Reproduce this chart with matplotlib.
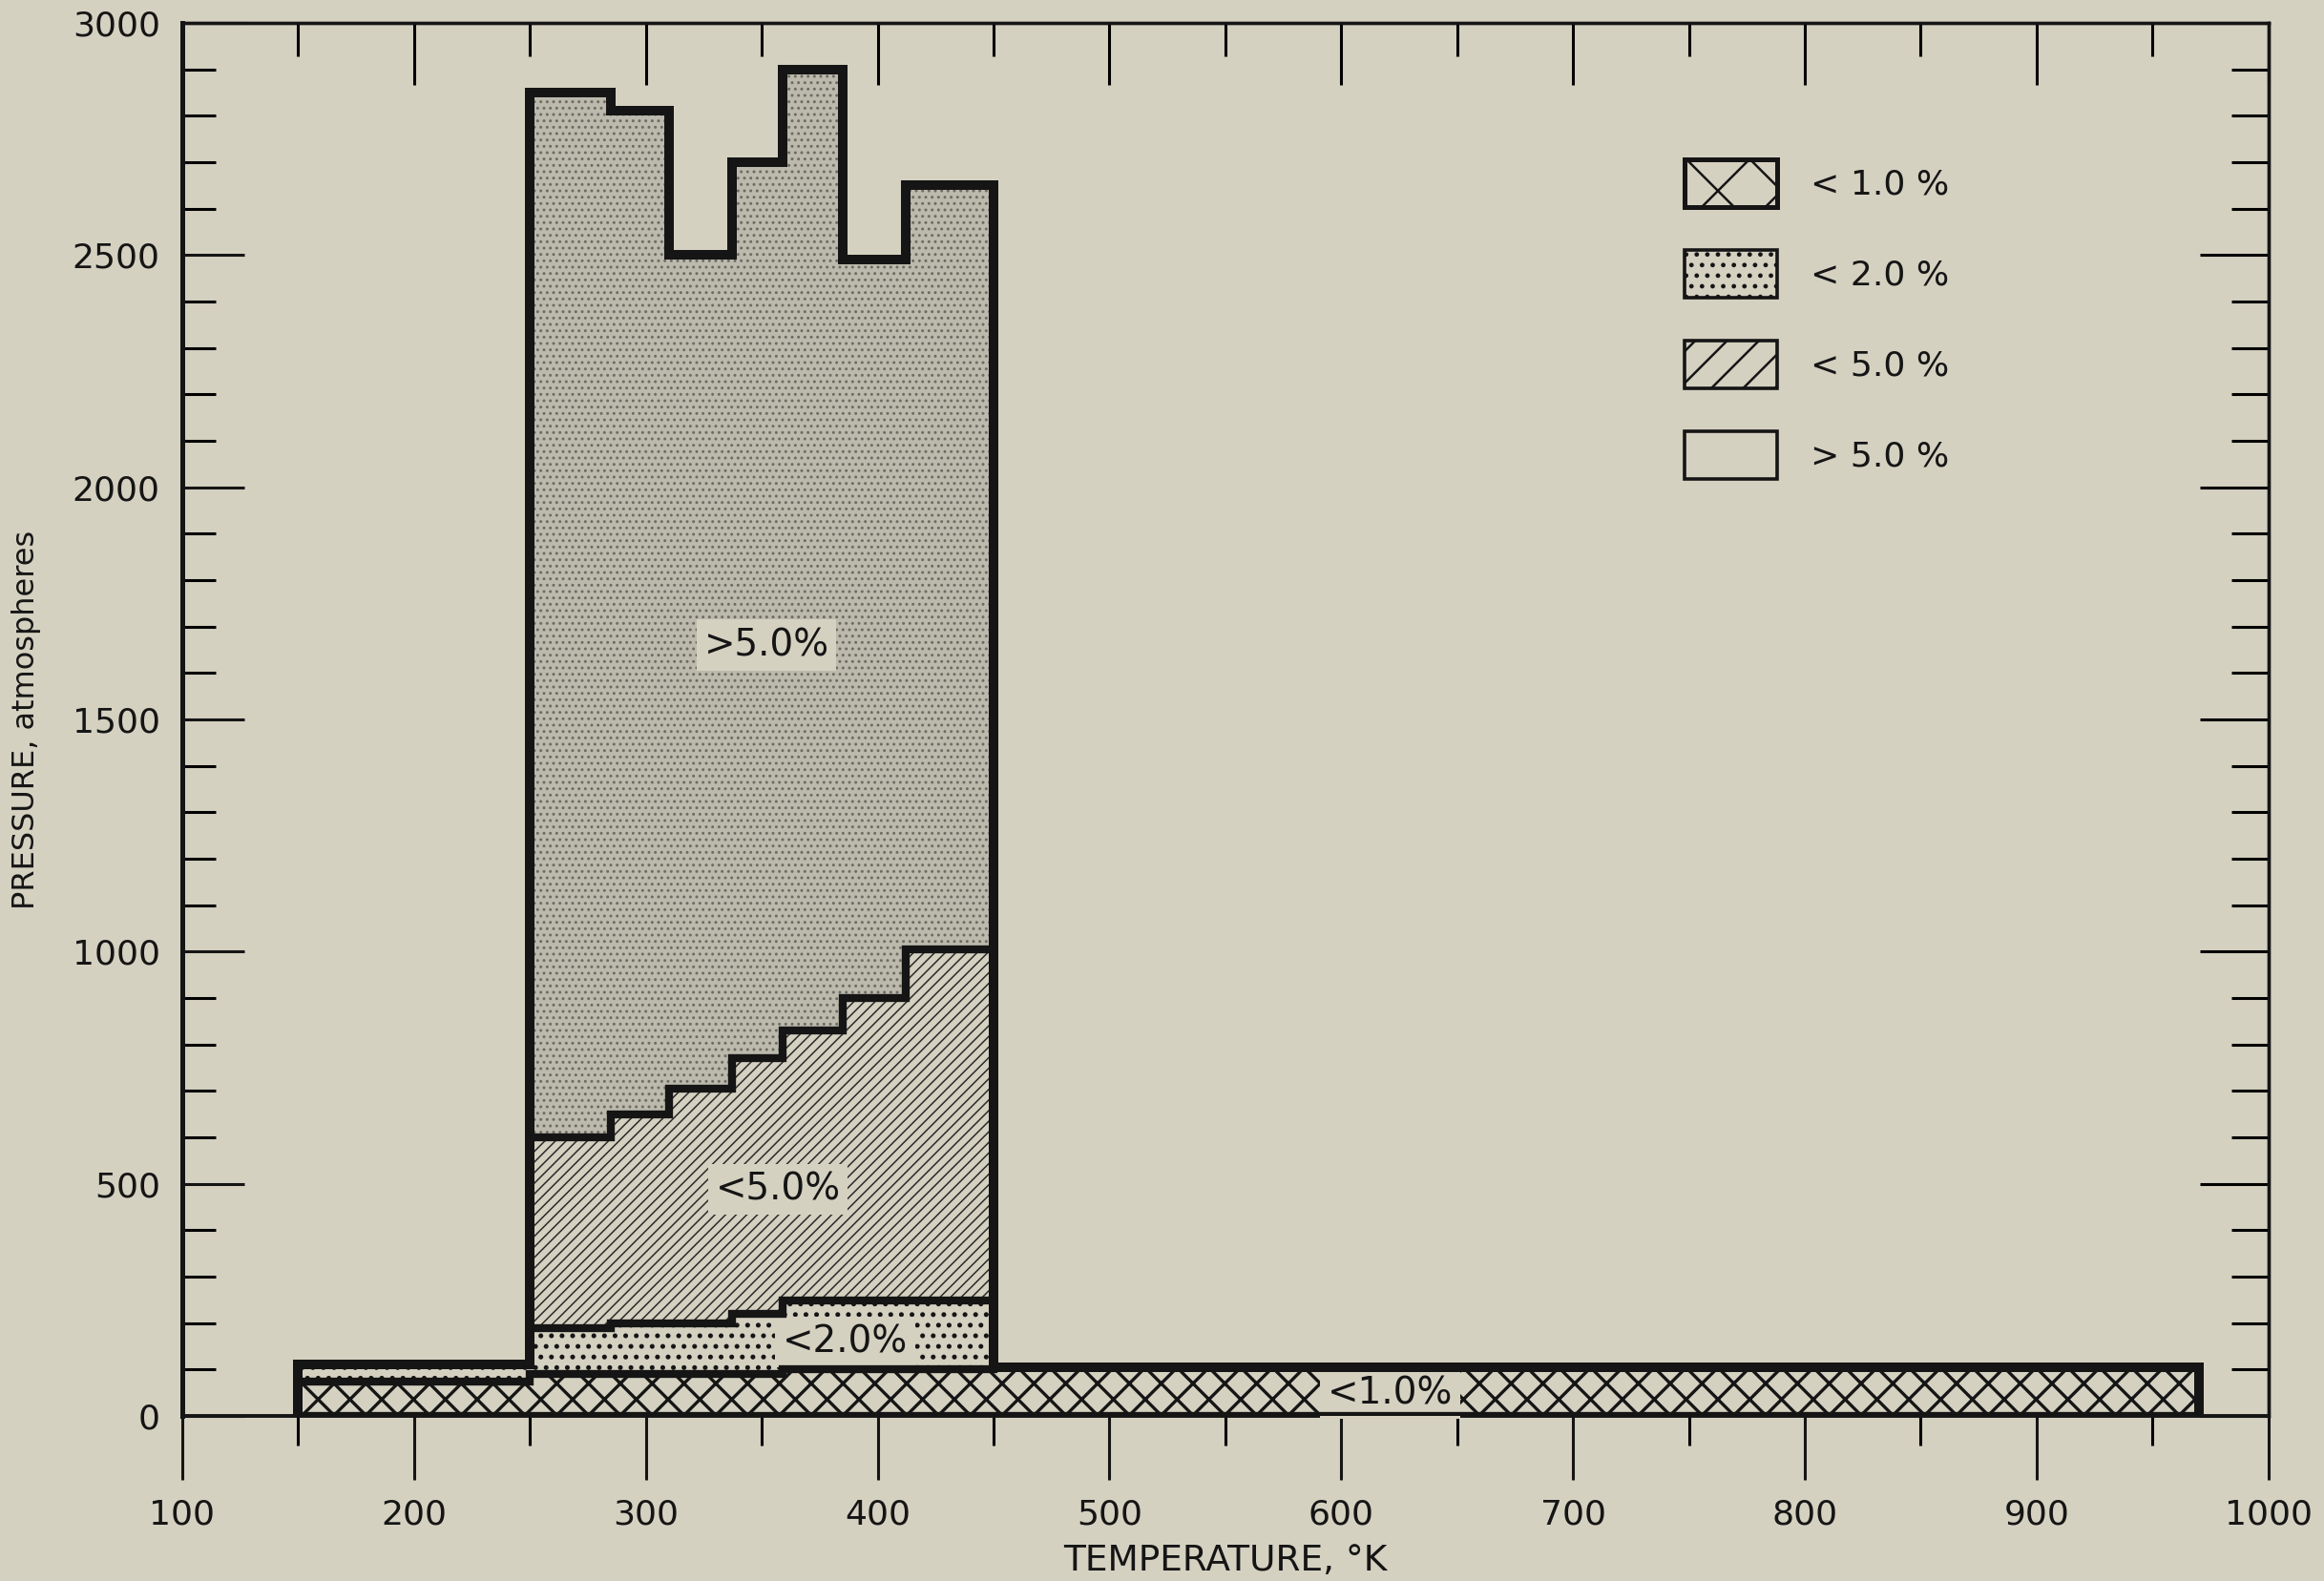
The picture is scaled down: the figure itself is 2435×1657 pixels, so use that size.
import matplotlib
matplotlib.use('Agg')
import matplotlib.pyplot as plt
from matplotlib.patches import Patch
from matplotlib.ticker import MultipleLocator

# ---- data ----
T_edges = [150, 250, 285, 310, 337, 359, 385, 412, 450, 970]       # temperature bin edges, K
top_lt1 = [75, 90, 90, 90, 90, 100, 100, 100, 105]                  # upper limit of "<1.0%" zone
top_lt2 = [112, 190, 200, 200, 220, 248, 248, 248, 105]             # upper limit of "<2.0%" zone
top_lt5 = [112, 600, 650, 705, 770, 830, 900, 1005, 105]            # upper limit of "<5.0%" zone
top_gt5 = [112, 2850, 2810, 2500, 2700, 2900, 2490, 2650, 105]      # upper limit of ">5.0%" zone

legend_labels = ['< 1.0 %', '< 2.0 %', '< 5.0 %', '> 5.0 %']
zone_labels = ['<1.0%', '<2.0%', '<5.0%', '>5.0%']
zone_label_pos = [(621, 48), (386, 159), (357, 488), (352, 1660)]
x_ticks = [100, 200, 300, 400, 500, 600, 700, 800, 900, 1000]
y_ticks = [0, 500, 1000, 1500, 2000, 2500, 3000]

BG = '#d5d1c1'
INK = '#151515'

plt.rcParams['font.family'] = ['DejaVu Sans']
plt.rcParams['hatch.linewidth'] = 0.9

fig = plt.figure(figsize=(12.175, 8.285), dpi=200, facecolor=BG)
ax = fig.add_axes([0.0784, 0.1044, 0.8977, 0.8811])
ax.set_facecolor(BG)

zero = [0] * len(top_lt1)
layers = [
    (top_lt1, zero, 'xx', INK, BG, 1.2),
    (top_lt2, top_lt1, '...', INK, BG, 1.0),
    (top_lt5, top_lt2, '//////', '#2a2a2a', BG, 0.55),
    (top_gt5, top_lt5, '.....', '#6e6b62', '#bcb9ad', 0.6),
]
for vals, base, hatch, hc, fc, hlw in layers:
    sp = ax.stairs(vals, T_edges, baseline=base, fill=True, facecolor=fc,
                   edgecolor=hc, hatch=hatch, linewidth=0, zorder=1)
    if hasattr(sp, 'set_hatch_linewidth'):
        sp.set_hatch_linewidth(hlw)

# boundaries between zones
for vals in (top_lt1, top_lt2, top_lt5):
    ax.stairs(vals, T_edges, baseline=None, fill=False, edgecolor=INK,
              linewidth=3.0, zorder=4, joinstyle='miter', capstyle='projecting')
# outer contour
ax.stairs(top_gt5, T_edges, baseline=0, fill=False, edgecolor=INK,
          linewidth=3.6, zorder=4, joinstyle='miter', capstyle='projecting')
ax.hlines(0, T_edges[0], T_edges[-1], color=INK, linewidth=3.0, zorder=4)

# zone labels
for txt, (xp, yp) in zip(zone_labels, zone_label_pos):
    ax.text(xp, yp, txt, ha='center', va='center', fontsize=14, color=INK, zorder=3,
            bbox=dict(boxstyle='square,pad=0.2', facecolor=BG, edgecolor='none'))

# axes
ax.set_xlim(100, 1000)
ax.set_ylim(0, 3000)
ax.set_xticks(x_ticks)
ax.set_yticks(y_ticks)
ax.xaxis.set_minor_locator(MultipleLocator(50))
ax.yaxis.set_minor_locator(MultipleLocator(100))
ax.tick_params(axis='x', which='major', direction='out', length=24, width=1.1,
               pad=7, labelsize=13, top=False, colors=INK)
ax.tick_params(axis='x', which='minor', direction='out', length=11, width=1.1, top=False)
ax.tick_params(axis='y', which='major', direction='in', length=23.4, width=1.1,
               pad=8.3, labelsize=13, right=False, colors=INK)
ax.tick_params(axis='y', which='minor', direction='in', length=12.6, width=1.1, right=False)

secx = ax.secondary_xaxis('top')
secx.set_xticks(x_ticks)
secx.xaxis.set_minor_locator(MultipleLocator(50))
secx.tick_params(which='major', direction='in', length=23.4, width=1.1, labeltop=False)
secx.tick_params(which='minor', direction='in', length=12.6, width=1.1)
secx.spines['top'].set_linewidth(1.2)

secy = ax.secondary_yaxis('right')
secy.set_yticks(y_ticks)
secy.yaxis.set_minor_locator(MultipleLocator(100))
secy.tick_params(which='major', direction='in', length=26, width=1.1, labelright=False)
secy.tick_params(which='minor', direction='in', length=14, width=1.1)
secy.spines['right'].set_linewidth(1.2)

for side, lw in (('left', 1.8), ('bottom', 1.4), ('top', 1.2), ('right', 1.2)):
    ax.spines[side].set_linewidth(lw)
    ax.spines[side].set_color(INK)

ax.set_xlabel('TEMPERATURE, °K', fontsize=13.5, labelpad=5, color=INK)
ax.set_ylabel('PRESSURE, atmospheres', fontsize=11.5, labelpad=12, color=INK)

# legend
handles = [
    Patch(facecolor=BG, edgecolor=INK, hatch='x', linewidth=1.8),
    Patch(facecolor=BG, edgecolor=INK, hatch='...', linewidth=1.3),
    Patch(facecolor=BG, edgecolor=INK, hatch='//', linewidth=1.3),
    Patch(facecolor=BG, edgecolor=INK, linewidth=1.3),
]
leg = ax.legend(handles, legend_labels, loc='upper left', bbox_to_anchor=(0.72, 0.902),
                frameon=False, fontsize=13, handlelength=2.7, handleheight=1.75,
                labelspacing=1.25, handletextpad=0.95, borderpad=0, borderaxespad=0)
for t in leg.get_texts():
    t.set_color(INK)

fig.savefig('out.png', dpi=200, facecolor=BG)
